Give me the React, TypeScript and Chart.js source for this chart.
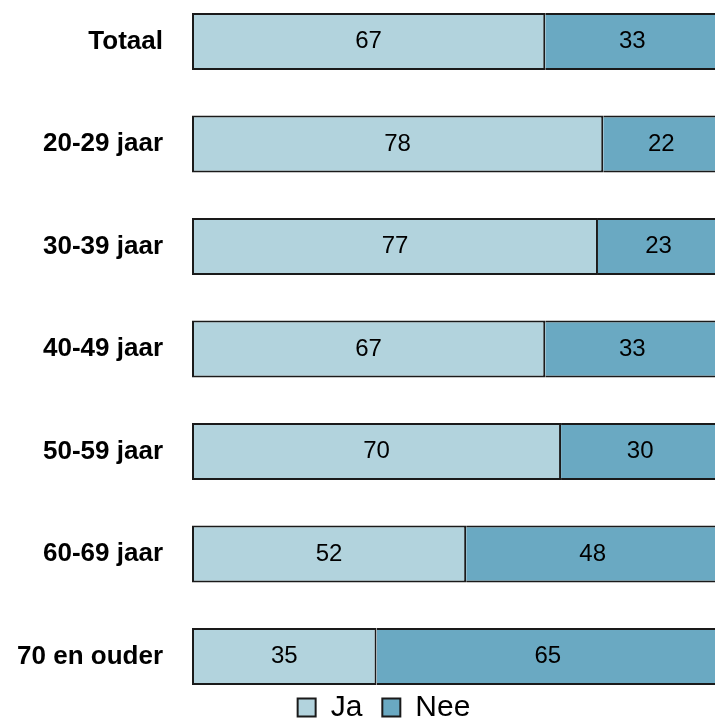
import React, { useEffect, useRef } from "react";
import { Chart, registerables } from "chart.js";

Chart.register(...registerables);

const categories = [
  "Totaal",
  "20-29 jaar",
  "30-39 jaar",
  "40-49 jaar",
  "50-59 jaar",
  "60-69 jaar",
  "70 en ouder",
];
const jaValues = [67, 78, 77, 67, 70, 52, 35];
const neeValues = [33, 22, 23, 33, 30, 48, 65];
const seriesNames = ["Ja", "Nee"];

const FONT = "'Liberation Sans', Arial, Helvetica, sans-serif";

const valueLabels = {
  id: "valueLabels",
  afterDatasetsDraw(chart: any) {
    const ctx = chart.ctx;
    ctx.save();
    ctx.font = `24px ${FONT}`;
    ctx.fillStyle = "#000000";
    ctx.textAlign = "center";
    ctx.textBaseline = "middle";
    chart.data.datasets.forEach((ds: any, di: number) => {
      const meta = chart.getDatasetMeta(di);
      meta.data.forEach((bar: any, i: number) => {
        const cx = (bar.x + bar.base) / 2;
        ctx.fillText(String(ds.data[i]), cx, bar.y);
      });
    });
    ctx.restore();
  },
};

export default function App() {
  const canvasRef = useRef<HTMLCanvasElement | null>(null);

  useEffect(() => {
    if (!canvasRef.current) return;
    const chart = new Chart(canvasRef.current, {
      type: "bar",
      data: {
        labels: categories,
        datasets: [
          {
            label: seriesNames[0],
            data: jaValues,
            backgroundColor: "#B2D3DD",
            borderColor: "#1a1a1a",
            borderWidth: 2,
            borderSkipped: false,
            categoryPercentage: 1,
            barPercentage: 0.556,
            clip: false,
          },
          {
            label: seriesNames[1],
            data: neeValues,
            backgroundColor: "#6AA9C2",
            borderColor: "#1a1a1a",
            borderWidth: 2,
            borderSkipped: "start",
            categoryPercentage: 1,
            barPercentage: 0.556,
            clip: false,
          },
        ],
      },
      options: {
        indexAxis: "y",
        responsive: false,
        animation: false,
        devicePixelRatio: 1,
        layout: {
          padding: { top: 41.5, left: 10, right: -43, bottom: -12.5 },
        },
        scales: {
          x: {
            stacked: true,
            min: 0,
            max: 99.2,
            position: "bottom",
            grid: { display: false, drawTicks: false },
            border: { display: false },
            ticks: { display: false },
            afterFit: (s: any) => {
              s.height = 16;
            },
          },
          y: {
            stacked: true,
            offset: false,
            grid: { display: false, drawTicks: false },
            border: { display: false },
            ticks: {
              padding: 29,
              color: "#000000",
              font: { family: FONT, size: 26, weight: "bold", lineHeight: 0.9 },
            },
            afterFit: (s: any) => {
              s.width = 182;
            },
          },
        },
        plugins: {
          legend: {
            display: true,
            position: "bottom",
            labels: {
              boxWidth: 18,
              boxHeight: 18,
              padding: 20,
              color: "#000000",
              font: { family: FONT, size: 30 },
            },
          },
          tooltip: { enabled: false },
        },
      },
      plugins: [valueLabels],
    });
    return () => chart.destroy();
  }, []);

  return (
    <div
      style={{
        position: "fixed",
        left: 0,
        top: 0,
        width: 715,
        height: 720,
        overflow: "hidden",
        background: "#ffffff",
      }}
    >
      <canvas ref={canvasRef} width={715} height={720} />
    </div>
  );
}
